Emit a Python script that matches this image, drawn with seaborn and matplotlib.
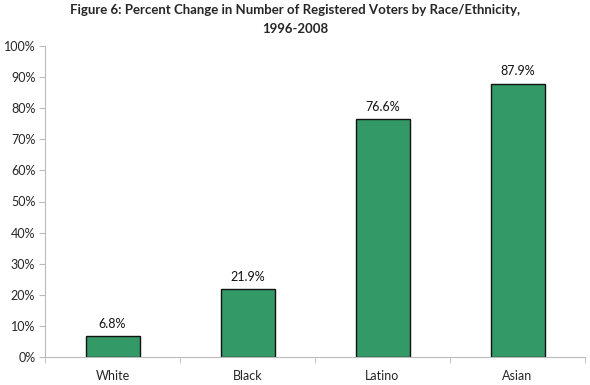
import matplotlib
matplotlib.use("Agg")
import matplotlib.pyplot as plt
import seaborn as sns
import pandas as pd
from matplotlib.ticker import PercentFormatter, FixedLocator

categories = ["White", "Black", "Latino", "Asian"]
values = [6.8, 21.9, 76.6, 87.9]
yticks = [0, 10, 20, 30, 40, 50, 60, 70, 80, 90, 100]
title = "Figure 6: Percent Change in Number of Registered Voters by Race/Ethnicity,\n1996-2008"

sns.set_style("white")
plt.rcParams['font.family'] = ['Lato', 'DejaVu Sans']

df = pd.DataFrame({"cat": categories, "val": values})
fig = plt.figure(figsize=(5.9, 3.85), dpi=100)
ax = fig.add_axes([45/590, 28/385, 540/590, 311/385])
sns.barplot(data=df, x="cat", y="val", color="#339966", saturation=1, width=0.4,
            edgecolor="#111111", linewidth=1.0, ax=ax)
ax.set_xlim(-0.5, 3.5)
ax.set_ylim(0, 100)
ax.set_yticks(yticks)
ax.yaxis.set_major_formatter(PercentFormatter(decimals=0))
ax.set_xlabel("")
ax.set_ylabel("")
for i, v in enumerate(values):
    ax.text(i, v + 2, f"{v:.1f}%", ha="center", va="bottom", fontsize=9, color="#111111")
for s in ["top", "right"]:
    ax.spines[s].set_visible(False)
for s in ["left", "bottom"]:
    ax.spines[s].set_color("#bbbbbb")
    ax.spines[s].set_linewidth(0.8)
ax.tick_params(axis="y", length=4, color="#bbbbbb", left=True, labelsize=9, pad=3)
ax.tick_params(axis="x", length=0, labelsize=9, pad=9)
ax.xaxis.set_minor_locator(FixedLocator([-0.5, 0.5, 1.5, 2.5, 3.5]))
ax.tick_params(axis="x", which="minor", length=4, color="#bbbbbb", bottom=True)
fig.suptitle(title, fontsize=9.5, fontweight="bold", y=0.99, linespacing=1.75)
fig.savefig("out.png", dpi=100)
